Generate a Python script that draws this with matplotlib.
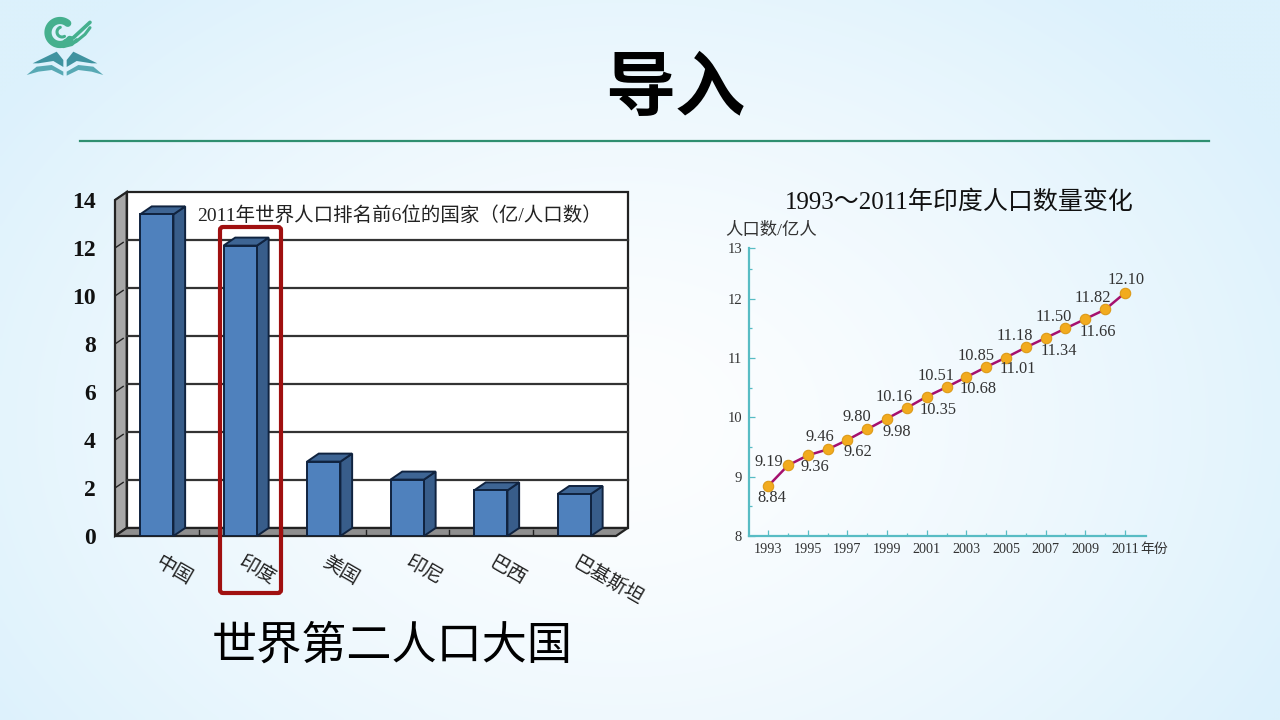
import numpy as np
import matplotlib
matplotlib.use("Agg")
import matplotlib.pyplot as plt
from matplotlib.colors import to_rgb
from matplotlib.patches import FancyBboxPatch, Polygon

plt.rcParams['font.family'] = ['Liberation Serif', 'Noto Sans CJK SC', 'DejaVu Sans']
SANS = ['Noto Sans CJK SC', 'DejaVu Sans']

# Bar chart data
countries = ["中国", "印度", "美国", "印尼", "巴西", "巴基斯坦"]
population = [13.4, 12.1, 3.1, 2.35, 1.9, 1.75]
bar_ticks = [0, 2, 4, 6, 8, 10, 12, 14]

# Line chart data
years = list(range(1993, 2012))
india = [8.84, 9.19, 9.36, 9.46, 9.62, 9.80, 9.98, 10.16, 10.35, 10.51,
         10.68, 10.85, 11.01, 11.18, 11.34, 11.50, 11.66, 11.82, 12.10]
year_ticks = list(range(1993, 2012, 2))
line_ylabels = ["8", "9", "10", "11", "12", "13"]

W, H = 1280, 720
fig = plt.figure(figsize=(12.8, 7.2), dpi=100)


def px_axes(left, top, right, bottom):
    return fig.add_axes([left / W, 1 - bottom / H, (right - left) / W, (bottom - top) / H])


# Background, in pixel coordinates
bg = fig.add_axes([0, 0, 1, 1], zorder=0)
bg.set_xlim(0, W)
bg.set_ylim(H, 0)
bg.axis("off")
yy, xx = np.mgrid[0:H:4, 0:W:4]
dist = np.sqrt(((xx - 620) / 760) ** 2 + ((yy - 420) / 560) ** 2)
t = np.clip(dist, 0, 1)[..., None] ** 1.4
img = np.array(to_rgb("#fdfeff")) * (1 - t) + np.array(to_rgb("#dcf1fc")) * t
bg.imshow(img, extent=[0, W, H, 0], aspect="auto", interpolation="bilinear")
bg.set_xlim(0, W)
bg.set_ylim(H, 0)


# Logo, points measured on a 3x crop
def logo(x, y):
    return [(a / 3 + 10, b / 3 + 5) for a, b in zip(x, y)]


green = "#45b08e"
a = np.radians(np.linspace(50, 325, 60))
bg.plot(60 + 12 * np.cos(a), 32.5 - 12 * np.sin(a), color=green, lw=5.2, solid_capstyle="round")
a = np.radians(np.linspace(110, 300, 30))
bg.plot(62 + 5 * np.cos(a), 32 - 5 * np.sin(a), color=green, lw=2.2, solid_capstyle="round")
for xs, ys, lw in [([165, 190, 215, 240], [108, 98, 75, 52], 2.6),
                   ([170, 198, 225, 240], [118, 110, 88, 68], 2.2),
                   ([135, 160, 185, 200], [120, 124, 118, 105], 2.6)]:
    bg.plot(*zip(*logo(xs, ys)), color=green, lw=lw, solid_capstyle="round")
page_top = ([68, 140, 160, 160, 130, 85], [175, 140, 165, 186, 168, 175])
page_low = ([50, 80, 125, 160, 160, 125, 85], [210, 185, 180, 200, 212, 195, 200])
for xs, ys, col in [(page_top[0], page_top[1], "#3f93a0"), (page_low[0], page_low[1], "#58a9b4")]:
    bg.add_patch(Polygon(logo(xs, ys), color=col, lw=0))
    bg.add_patch(Polygon(logo([330 - v for v in xs], ys), color=col, lw=0))

bg.text(675, 90, "导入", family=SANS, fontsize=50.5, fontweight="bold", ha="center", va="center", color="black")
bg.plot([80, 1209], [141, 141], color="#2f8f70", lw=1.6)
bg.text(392, 646, "世界第二人口大国", family=SANS, fontsize=32.5, ha="center", va="center", color="black")

# 3D bar chart, drawn on the plane of the bar fronts
ax = px_axes(115, 200, 616, 536)
ax.set_zorder(2)
ax.patch.set_visible(False)
ax.set_xlim(0, 6)
ax.set_ylim(0, 14)
for s in ax.spines.values():
    s.set_visible(False)

dx, dy = 0.14, 1 / 3
edge = "#222222"
ax.add_patch(Polygon([(dx, dy), (6 + dx, dy), (6 + dx, 14 + dy), (dx, 14 + dy)],
                     fc="white", ec=edge, lw=1.6, clip_on=False, zorder=1))
ax.add_patch(Polygon([(0, 0), (dx, dy), (dx, 14 + dy), (0, 14)],
                     fc="#a8a8a8", ec=edge, lw=1.6, clip_on=False, zorder=1))
ax.add_patch(Polygon([(0, 0), (6, 0), (6 + dx, dy), (dx, dy)],
                     fc="#8f8f8f", ec=edge, lw=1.6, clip_on=False, zorder=1))
for v in bar_ticks[1:-1]:
    ax.plot([dx, 6 + dx], [v + dy, v + dy], color="#333333", lw=1.6, zorder=2, clip_on=False)
for v in bar_ticks[1:]:
    ax.plot([0, dx * 0.7], [v, v + dy * 0.7], color=edge, lw=1.0, zorder=2, clip_on=False)
for i in range(1, 6):
    ax.plot([i, i], [0, dy * 0.75], color=edge, lw=1.0, zorder=2)

bar_x = np.arange(len(countries)) + 0.5
bw = 0.4
navy = "#10233f"
ax.bar(bar_x, population, width=bw, color="#4f81bd", edgecolor=navy, linewidth=1.4, zorder=4)
for x, v in zip(bar_x, population):
    r = x + bw / 2
    l = x - bw / 2
    ax.add_patch(Polygon([(r, 0), (r + dx, dy), (r + dx, v + dy), (r, v)],
                         fc="#385d8a", ec=navy, lw=1.4, zorder=3, clip_on=False))
    ax.add_patch(Polygon([(l, v), (r, v), (r + dx, v + dy), (l + dx, v + dy)],
                         fc="#3e6594", ec=navy, lw=1.4, zorder=3, clip_on=False))

ax.set_yticks(bar_ticks)
ax.set_yticklabels(bar_ticks, fontsize=17, fontweight="bold", color="#111111")
ax.tick_params(axis="y", length=0, pad=14)
ax.set_xticks(bar_x)
ax.set_xticklabels(countries, family=SANS, fontsize=14, rotation=-30, ha="left",
                   va="center", rotation_mode="anchor", color="#222222")
ax.tick_params(axis="x", length=0, pad=18)
ax.text((399 - 115) / 501, 0.955, "2011年世界人口排名前6位的国家（亿/人口数）", transform=ax.transAxes,
        fontsize=14, ha="center", va="center", color="#222222", zorder=5)

# Line chart
ax2 = px_axes(749, 248, 1146, 536)
ax2.set_zorder(2)
ax2.patch.set_visible(False)
ax2.set_xlim(1992.04, 2012.06)
ax2.set_ylim(8, 12.857)
ax2.spines["top"].set_visible(False)
ax2.spines["right"].set_visible(False)
teal = "#58bcc4"
ax2.spines["left"].set_color(teal)
ax2.spines["bottom"].set_color(teal)
ax2.spines["left"].set_linewidth(1.6)
ax2.spines["bottom"].set_linewidth(1.6)
ax2.plot(years, india, color="#a5106e", lw=1.8, marker="o", ms=7.5,
         mfc="#f2ab1e", mec="#dd9a18", mew=0.8, clip_on=False, zorder=3)

ax2.set_xticks(year_ticks)
ax2.set_xticklabels(year_ticks, fontsize=10.2, color="#333333")
ax2.set_xticks(years[1::2], minor=True)
# the source axis squeezes its top tick, 13 sits just under the spacing of the others
ax2.set_yticks([8, 9, 10, 11, 12, 12.857])
ax2.set_yticklabels(line_ylabels, fontsize=10.5, color="#333333")
ax2.set_yticks([8.5, 9.5, 10.5, 11.5, 12.5], minor=True)
ax2.tick_params(axis="both", which="major", direction="in", length=4, width=0.9, color=teal, pad=5)
ax2.tick_params(axis="both", which="minor", direction="in", length=2, width=0.9, color=teal)

# label offsets from each point, in pixels (x right, y down)
label_off = [(4, 12), (-19, -3), (7, 12), (-8, -12), (11, 12), (-10, -12), (10, 13), (-13, -11),
             (11, 13), (-10, -11), (12, 12), (-10, -11), (12, 11), (-11, -11), (13, 13),
             (-12, -11), (13, 13), (-12, -11), (1, -13)]
for yr, v, off in zip(years, india, label_off):
    ax2.annotate(f"{v:.2f}", (yr, v), xytext=(off[0] * 0.72, -off[1] * 0.72),
                 textcoords="offset points", fontsize=11.8, ha="center", va="center", color="#333333")

ax2.annotate("年份", (2011, 8), xytext=(21, -9.5), textcoords="offset points", fontsize=10,
             family=SANS, ha="center", va="center", color="#333333", annotation_clip=False)
bg.text(959, 202, "1993～2011年印度人口数量变化", fontsize=18, ha="center", va="center", color="#111111")
bg.text(771, 231, "人口数/亿人", fontsize=12.5, ha="center", va="center", color="#333333")

# Highlight box around India
top = fig.add_axes([0, 0, 1, 1], zorder=5)
top.set_xlim(0, W)
top.set_ylim(H, 0)
top.axis("off")
top.add_patch(FancyBboxPatch((220, 227), 61, 366, boxstyle="round,pad=0,rounding_size=3",
                             fc="none", ec="#a01010", lw=3))

fig.savefig("out.png", dpi=100)
